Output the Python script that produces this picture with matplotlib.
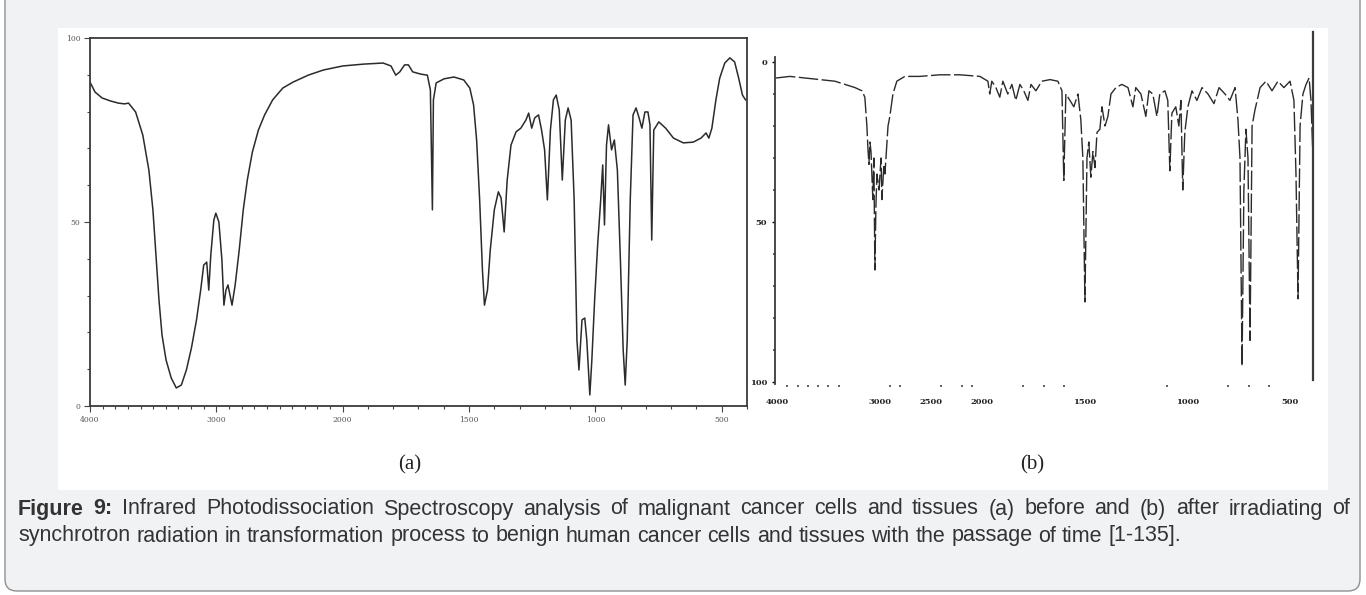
import numpy as np
import matplotlib
matplotlib.use('Agg')
import matplotlib.pyplot as plt
from matplotlib.patches import FancyBboxPatch, Rectangle
from matplotlib.transforms import IdentityTransform
from matplotlib.ticker import MultipleLocator, FixedLocator
from matplotlib import font_manager

W, H = 1366, 595  # output size in pixels (dpi 100)

# panel (a): IR spectrum before irradiation, wavenumber (cm-1) vs transmittance (%)
wn_a = [4000, 3960, 3904, 3839, 3775, 3727, 3695, 3639, 3582, 3534, 3502, 3478, 3454, 3430,
        3398, 3357, 3317, 3277, 3237, 3197, 3157, 3124, 3100, 3076, 3060, 3044, 3020, 3004,
        2980, 2956, 2940, 2924, 2908, 2892, 2876, 2851, 2819, 2787, 2755, 2715, 2667, 2618,
        2554, 2474, 2394, 2273, 2153, 2000, 1918, 1840, 1809, 1790, 1774, 1755, 1740, 1723,
        1692, 1665, 1653, 1645, 1641, 1630, 1599, 1560, 1521, 1497, 1482, 1470, 1458, 1447,
        1439, 1427, 1416, 1400, 1384, 1373, 1361, 1349, 1334, 1314, 1295, 1275, 1264, 1252,
        1240, 1225, 1213, 1201, 1190, 1178, 1166, 1155, 1143, 1131, 1119, 1108, 1096, 1084,
        1073, 1065, 1053, 1042, 1034, 1022, 1014, 1003, 991, 979, 971, 964, 956, 948, 936,
        925, 913, 901, 890, 882, 874, 862, 851, 839, 827, 816, 804, 792, 784, 777, 769, 749,
        722, 691, 652, 613, 582, 562, 551, 539, 523, 508, 488, 468, 449, 433, 418, 406]
t_a = [88.0, 85.3, 83.7, 82.9, 82.3, 82.1, 82.3, 79.9, 73.6, 64.1, 53.3, 41.0, 28.8, 19.3,
       12.5, 7.6, 4.9, 5.7, 9.8, 15.8, 23.4, 31.5, 38.3, 39.1, 31.5, 41.0, 50.5, 52.4,
       50.0, 39.7, 27.4, 31.5, 32.9, 30.2, 27.4, 32.9, 42.4, 53.3, 61.4, 69.0, 75.0, 79.1,
       83.2, 86.4, 88.0, 89.9, 91.3, 92.4, 92.9, 93.2, 92.4, 89.9, 90.8, 92.7, 92.7, 90.8,
       90.2, 89.9, 85.9, 53.3, 83.2, 87.8, 88.9, 89.4, 88.6, 86.4, 81.8, 72.3, 56.0, 37.0,
       27.4, 31.5, 42.4, 53.3, 58.2, 56.5, 47.3, 61.4, 70.9, 74.5, 75.5, 77.7, 79.6, 75.5,
       78.3, 79.1, 75.0, 69.6, 56.0, 75.0, 83.2, 84.5, 80.4, 61.4, 77.7, 81.0, 77.7, 56.0,
       17.9, 9.8, 23.4, 23.9, 17.9, 3.0, 12.5, 28.8, 43.8, 56.0, 65.5, 49.2, 70.9, 76.4, 69.6,
       72.3, 64.1, 39.7, 15.2, 5.7, 17.9, 56.0, 79.1, 81.0, 78.3, 75.5, 79.9, 79.9, 76.4, 45.1,
       75.0, 77.2, 75.5, 72.8, 71.5, 71.7, 72.8, 74.2, 72.8, 75.5, 83.2, 89.1, 93.2, 94.6,
       93.5, 89.1, 84.5, 83.2]

# panel (b): IR spectrum after irradiation (axis runs 0 at top to 100 at bottom)
wn_b = [4010, 3874, 3728, 3582, 3436, 3338, 3240, 3172, 3144, 3124, 3114, 3104, 3094, 3084,
        3066, 3056, 3046, 3036, 3026, 3006, 2986, 2978, 2958, 2948, 2918, 2900, 2870, 2832,
        2754, 2608, 2412, 2218, 2022, 1972, 1963, 1953, 1933, 1914, 1899, 1875, 1855, 1836,
        1816, 1797, 1777, 1762, 1738, 1709, 1669, 1631, 1611, 1602, 1592, 1572, 1553, 1533,
        1519, 1509, 1499, 1489, 1480, 1470, 1460, 1450, 1440, 1426, 1416, 1401, 1387, 1372,
        1348, 1319, 1289, 1265, 1251, 1226, 1202, 1187, 1168, 1148, 1134, 1109, 1095, 1085,
        1075, 1056, 1041, 1031, 1022, 1012, 997, 977, 953, 928, 899, 870, 845, 816, 792, 767,
        753, 743, 733, 724, 714, 704, 694, 684, 670, 645, 616, 587, 558, 529, 499, 480, 470,
        460, 450, 436, 421, 406, 397, 387]
v_b = [5, 4.5, 5, 5.5, 6, 7, 8, 9, 11, 20, 27, 32, 25, 28,
       43, 30, 65, 45, 35, 40, 30, 43, 32, 35, 20, 17, 10, 6,
       4.5, 4.5, 4, 4, 4.5, 6, 10, 6, 8, 11, 6, 10, 7, 12,
       7, 9, 12, 7, 9, 6, 5.5, 6, 9, 37, 10, 12, 14, 10,
       18, 30, 75, 30, 25, 36, 28, 33, 22, 21, 14, 20, 17, 10,
       8, 7, 8, 14, 8, 10, 17, 9, 10, 17, 10, 9, 12, 34,
       16, 14, 20, 12, 40, 22, 14, 9, 12, 8, 10, 13, 8, 10, 12, 8,
       18, 30, 95, 40, 21, 30, 87, 20, 15, 8, 6, 9, 6, 8, 6, 12, 35,
       74, 20, 10, 7, 5, 12, 30]

ticks_a = [4000, 3000, 2000, 1500, 1000, 500]
ticks_b = [4000, 3000, 2500, 2000, 1500, 1000, 500]
dots_b = [3900, 3800, 3700, 3600, 3500, 3400, 2900, 2800, 2400, 2200, 2100,
          1800, 1700, 1600, 1100, 1000, 800, 700, 600, 500]

caption_bold = ['Figure', '9:']
caption_1 = ('Infrared Photodissociation Spectroscopy analysis of malignant cancer cells '
             'and tissues (a) before and (b) after irradiating of')
caption_2 = ('synchrotron radiation in transformation process to benign human cancer cells '
             'and tissues with the passage of time [1-135].')


def fwd(w):
    # IR charts: the 4000-2000 range is drawn at half scale
    w = np.asarray(w, float)
    return np.where(w > 2000, 2000 + (w - 2000) / 2, w)


def inv(u):
    u = np.asarray(u, float)
    return np.where(u > 2000, 2000 + (u - 2000) * 2, u)


def px_axes(fig, x0, y0, x1, y1):
    # add axes from pixel box (top-left origin)
    return fig.add_axes([x0 / W, 1 - y1 / H, (x1 - x0) / W, (y1 - y0) / H])


fig = plt.figure(figsize=(W / 100, H / 100), dpi=100)
fig.patch.set_facecolor('white')

# page frame (top edge cut off like the reference) and white picture area
frame = FancyBboxPatch((5, 4), W - 11, H + 20, boxstyle='round,pad=0,rounding_size=12',
                       transform=IdentityTransform(), facecolor='#f1f2f4',
                       edgecolor='#8f8f8f', lw=1.0, zorder=-2)
fig.patches.append(frame)
fig.patches.append(Rectangle((58, H - 490), 1270, 462, transform=IdentityTransform(),
                             facecolor='white', edgecolor='none', zorder=-1))

# ---------- panel (a) ----------
ax = px_axes(fig, 90, 38, 747, 406)
ax.set_facecolor('none')
ax.set_xscale('function', functions=(fwd, inv))
ax.plot(wn_a, t_a, color='#2b2b2b', lw=1.1)
ax.set_xlim(4000, 400)
ax.set_ylim(0, 100)
ax.set_xticks(ticks_a)
ax.set_xticklabels([str(t) for t in ticks_a])
ax.xaxis.set_minor_locator(MultipleLocator(100))
ax.set_yticks([0, 50, 100])
ax.set_yticklabels(['0', '50', '100'])
ax.yaxis.set_minor_locator(MultipleLocator(10))
ax.tick_params(which='both', direction='out', color='#444444', width=0.8,
               labelsize=5.5, labelcolor='#555555', pad=3)
ax.tick_params(which='major', length=4)
ax.tick_params(which='minor', length=2.5)
for lab in ax.get_xticklabels() + ax.get_yticklabels():
    lab.set_family('DejaVu Serif')
for s in ax.spines.values():
    s.set_color('#3a3a3a')
    s.set_linewidth(1.3)

# ---------- panel (b) ----------
bx = px_axes(fig, 775, 32, 1313, 385)
bx.set_facecolor('none')
bx.set_xscale('function', functions=(fwd, inv))
bx.plot(wn_b, v_b, color='#2b2b2b', lw=1.0, ls=(0, (14, 2.5)))
bx.set_xlim(4020, 387)
top_val = (32 - 62) / 3.2
bx.set_ylim((385 - 62) / 3.2, top_val)
bx.set_xticks(ticks_b)
bx.set_xticklabels([str(t) for t in ticks_b])
bx.xaxis.set_minor_locator(FixedLocator(dots_b))
bx.set_yticks([0, 50, 100])
bx.set_yticklabels(['0', '50', '100'])
bx.yaxis.set_minor_locator(FixedLocator([10, 20, 30, 40, 60, 70, 80, 90]))
bx.tick_params(axis='x', which='major', length=0, pad=9)
bx.tick_params(axis='x', which='minor', length=1.3, width=1.3, color='#555555')
bx.tick_params(axis='y', which='major', length=2.5, width=1.0, pad=3)
bx.tick_params(axis='y', which='minor', length=1.3, width=1.3, color='#555555')
bx.tick_params(which='both', labelsize=6, labelcolor='#222222')
for lab in bx.get_xticklabels() + bx.get_yticklabels():
    lab.set_family('DejaVu Serif')
    lab.set_fontweight('bold')
bx.spines['top'].set_visible(False)
bx.spines['bottom'].set_visible(False)
bx.spines['left'].set_bounds(-1.5, 100.5)
bx.spines['right'].set_bounds(top_val, 99.5)
bx.spines['left'].set_color('#3a3a3a')
bx.spines['left'].set_linewidth(1.3)
bx.spines['right'].set_color('#3a3a3a')
bx.spines['right'].set_linewidth(1.6)

# panel labels
fig.text(410 / W, 1 - 465 / H, '(a)', ha='center', va='center', fontsize=15,
         family='Liberation Serif', color='#222222')
fig.text(1032 / W, 1 - 465 / H, '(b)', ha='center', va='center', fontsize=15,
         family='Liberation Serif', color='#222222')

# ---------- caption ----------
names = {f.name for f in font_manager.fontManager.ttflist}
cap_font = 'Liberation Sans Narrow' if 'Liberation Sans Narrow' in names else 'Liberation Sans'
renderer = fig.canvas.get_renderer()

# size the caption so that line 2 has the reference width
probe = fig.text(0, 0, caption_2, fontsize=10, family=cap_font)
w10 = probe.get_window_extent(renderer).width
probe.remove()
cap_size = 10 * (1190 - 18) / w10


def put_words(words, y, x0, x1=None):
    arts = []
    for word, weight in words:
        arts.append(fig.text(0, 1 - y / H, word, fontsize=cap_size, fontweight=weight,
                             family=cap_font, color='#333333', va='center'))
    widths = [t.get_window_extent(renderer).width for t in arts]
    if x1 is None:
        a = fig.text(0, 0, 'x x', fontsize=cap_size, family=cap_font)
        b = fig.text(0, 0, 'xx', fontsize=cap_size, family=cap_font)
        space = a.get_window_extent(renderer).width - b.get_window_extent(renderer).width
        a.remove()
        b.remove()
    else:
        space = (x1 - x0 - sum(widths)) / (len(arts) - 1)
    x = x0
    for t, w in zip(arts, widths):
        t.set_x(x / W)
        x += w + space


line1 = [(w, 'bold') for w in caption_bold] + [(w, 'normal') for w in caption_1.split()]
line2 = [(w, 'normal') for w in caption_2.split()]
put_words(line1, 509, 18, 1350)
put_words(line2, 536, 18)

fig.savefig('out.png', dpi=100, facecolor=fig.get_facecolor())
